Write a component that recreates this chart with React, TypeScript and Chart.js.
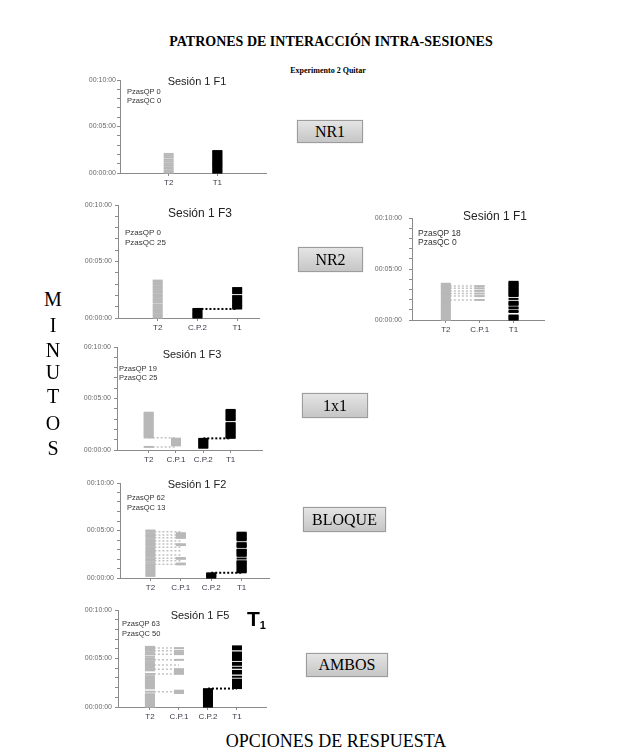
import React, { useEffect, useRef } from 'react';
import { Chart, registerables } from 'chart.js';
Chart.register(...registerables);

const GRAY = '#b8b8b8';
const GRAY_LINK = '#c2c2c2';
const BLACK = '#000000';

// Category label sets
const CATS_A = ['T2', 'T1'];
const CATS_B = ['T2', 'C.P.2', 'T1'];
const CATS_C = ['T2', 'C.P.1', 'T1'];
const CATS_D = ['T2', 'C.P.1', 'C.P.2', 'T1'];

// Y tick labels (minutes)
const Y_TICK_LABELS: Record<number, string> = { 0: '00:00:00', 5: '00:05:00', 10: '00:10:00' };

// ---- Panel 1: NR1, Sesión 1 F1 ----
const P1_T2 = [0.05, 0.22, 0.45, 0.63, 0.85, 1.04, 1.25, 1.43, 1.66, 1.84, 2.05];
const P1_T1 = [0.04, 0.15, 0.27, 0.38, 0.5, 0.62, 0.73, 0.85, 0.97, 1.08, 1.2, 1.31, 1.43, 1.55, 1.66, 1.78, 1.9, 2.01, 2.13, 2.25, 2.36];

// ---- Panel 2: NR2, Sesión 1 F3 ----
const P2_T2 = [0.04, 0.18, 0.33, 0.47, 0.62, 0.76, 0.9, 1.05, 1.19, 1.38, 1.52, 1.66, 1.8, 1.95, 2.09, 2.24, 2.38, 2.52, 2.66, 2.8, 2.94, 3.08, 3.2, 3.31];
const P2_CP2 = [0.04, 0.14, 0.25, 0.36, 0.47, 0.58, 0.69, 0.8];
const P2_CP2_T1 = [0.8];
const P2_T1 = [0.84, 0.95, 1.06, 1.17, 1.28, 1.39, 1.5, 1.61, 1.72, 1.83, 1.94, 2.2, 2.31, 2.42, 2.53, 2.65];

// ---- Panel 6: NR2 (right), Sesión 1 F1 ----
const P6_T2 = [0.04, 0.17, 0.3, 0.43, 0.56, 0.69, 0.82, 0.95, 1.08, 1.21, 1.34, 1.47, 1.6, 1.73, 1.86, 1.97, 2.16, 2.35, 2.48, 2.6, 2.73, 2.86, 2.98, 3.11, 3.22, 3.33, 3.45, 3.56];
const P6_T2_CP1 = [1.97, 2.35, 2.6, 2.86, 3.11, 3.33];
const P6_CP1 = [1.97, 2.35, 2.6, 2.86, 3.11, 3.33];
const P6_T1 = [0.04, 0.14, 0.24, 0.34, 0.44, 0.79, 0.89, 1.14, 1.24, 1.49, 1.59, 1.69, 1.79, 2.07, 2.35, 2.45, 2.55, 2.65, 2.75, 2.85, 2.95, 3.05, 3.15, 3.25, 3.35, 3.45, 3.55, 3.65, 3.75];

// ---- Panel 3: 1x1, Sesión 1 F3 ----
const P3_T2 = [0.3, 1.22, 1.33, 1.44, 1.55, 1.66, 1.77, 1.88, 1.99, 2.1, 2.21, 2.32, 2.43, 2.54, 2.65, 2.76, 2.87, 2.98, 3.09, 3.2, 3.31, 3.42, 3.53, 3.62];
const P3_T2_CP1 = [1.18, 0.3];
const P3_CP1 = [0.45, 0.56, 0.67, 0.78, 0.89, 1.0, 1.1];
const P3_CP2 = [0.22, 0.33, 0.44, 0.55, 0.66, 0.77, 0.88, 0.99, 1.08];
const P3_CP2_T1 = [1.13];
const P3_T1 = [1.18, 1.29, 1.4, 1.51, 1.62, 1.73, 1.84, 1.95, 2.06, 2.17, 2.28, 2.39, 2.5, 2.61, 2.9, 3.01, 3.12, 3.23, 3.34, 3.45, 3.56, 3.67, 3.78, 3.89];

// ---- Panel 4: BLOQUE, Sesión 1 F2 ----
const P4_T2 = [0.22, 0.38, 0.52, 0.68, 0.82, 0.98, 1.14, 1.3, 1.44, 1.62, 1.82, 1.96, 2.07, 2.25, 2.42, 2.6, 2.74, 2.87, 3.05, 3.23, 3.4, 3.58, 3.74, 3.89, 4.06, 4.24, 4.4, 4.53, 4.7, 4.87, 5.0];
const P4_T2_CP1 = [1.44, 1.82, 2.07, 2.42, 2.87, 3.23, 3.58, 3.89, 4.24, 4.53, 4.87];
const P4_CP1 = [1.44, 1.52, 2.02, 2.1, 3.46, 3.55, 4.22, 4.32, 4.42, 4.52, 4.62, 4.72];
const P4_CP2 = [0.04, 0.13, 0.22, 0.31, 0.4, 0.49];
const P4_CP2_T1 = [0.55];
const P4_T1 = [0.6, 0.7, 0.8, 0.9, 1.0, 1.1, 1.2, 1.3, 1.4, 1.5, 1.6, 1.7, 1.76, 2.05, 2.33, 2.43, 2.53, 2.63, 2.73, 2.83, 2.93, 2.98, 3.27, 3.37, 3.47, 3.57, 3.67, 3.97, 4.07, 4.17, 4.27, 4.37, 4.47, 4.57, 4.67, 4.77];

// ---- Panel 5: AMBOS, Sesión 1 F5 ----
const P5_T2 = [0.04, 0.14, 0.24, 0.34, 0.44, 0.54, 0.64, 0.74, 0.84, 0.94, 1.04, 1.14, 1.24, 1.32, 1.58, 1.92, 2.06, 2.2, 2.34, 2.48, 2.62, 2.76, 2.9, 3.04, 3.18, 3.41, 3.78, 3.9, 4.06, 4.2, 4.34, 4.5, 4.66, 4.86, 5.02, 5.2, 5.45, 5.6, 5.79, 5.95, 6.07, 6.2];
const P5_T2_CP1 = [1.58, 3.41, 3.9, 4.34, 4.86, 5.45, 5.79, 6.07];
const P5_CP1 = [1.44, 1.52, 1.6, 1.68, 3.42, 3.5, 3.58, 3.66, 3.74, 3.82, 3.9, 4.86, 5.45, 5.6, 5.79, 6.07];
const P5_CP2 = [0.04, 0.14, 0.24, 0.34, 0.44, 0.54, 0.64, 0.74, 0.84, 0.94, 1.04, 1.14, 1.24, 1.34, 1.44, 1.54, 1.64, 1.74, 1.84];
const P5_CP2_T1 = [1.9];
const P5_T1 = [1.95, 2.05, 2.15, 2.25, 2.35, 2.45, 2.55, 2.65, 2.75, 2.82, 3.12, 3.45, 3.55, 3.65, 3.72, 4.05, 4.35, 4.45, 4.55, 4.85, 4.95, 5.05, 5.15, 5.25, 5.35, 5.45, 5.55, 5.62, 5.95, 6.05, 6.15, 6.25];

type Marks = { cat: number; times: number[]; color: string };
type Link = { from: number; to: number; times: number[]; color: string; width: number };

interface PanelCfg {
  axisX: number; topY: number; bottomY: number; rightX: number;
  xMin: number; xMax: number;
  cats: string[];
  marks: Marks[];
  links: Link[];
  tickPad: number;
  title: string; titleX: number; titleY: number; titleSize: number;
  pzas: string[]; pzasX: number; pzasY: number; pzasSize: number; pzasGap: number;
}

const PANELS: PanelCfg[] = [
  {
    axisX: 120, topY: 80, bottomY: 172.5, rightX: 267, xMin: 0, xMax: 3, cats: CATS_A,
    marks: [{ cat: 1, times: P1_T2, color: GRAY }, { cat: 2, times: P1_T1, color: BLACK }],
    links: [], tickPad: 1,
    title: 'Sesión 1 F1', titleX: 197, titleY: 81, titleSize: 11,
    pzas: ['PzasQP 0', 'PzasQC 0'], pzasX: 127, pzasY: 92, pzasSize: 7.5, pzasGap: 9,
  },
  {
    axisX: 118, topY: 205, bottomY: 318, rightX: 260, xMin: 0, xMax: 3.55, cats: CATS_B,
    marks: [{ cat: 1, times: P2_T2, color: GRAY }, { cat: 2, times: P2_CP2, color: BLACK }, { cat: 3, times: P2_T1, color: BLACK }],
    links: [{ from: 2, to: 3, times: P2_CP2_T1, color: BLACK, width: 2 }], tickPad: 3,
    title: 'Sesión 1 F3', titleX: 200, titleY: 213, titleSize: 12,
    pzas: ['PzasQP 0', 'PzasQC 25'], pzasX: 125, pzasY: 233, pzasSize: 8, pzasGap: 10,
  },
  {
    axisX: 412, topY: 215, bottomY: 320, rightX: 545, xMin: 0, xMax: 3.9, cats: CATS_C,
    marks: [{ cat: 1, times: P6_T2, color: GRAY }, { cat: 2, times: P6_CP1, color: GRAY }, { cat: 3, times: P6_T1, color: BLACK }],
    links: [{ from: 1, to: 2, times: P6_T2_CP1, color: GRAY_LINK, width: 1.5 }], tickPad: 7,
    title: 'Sesión 1 F1', titleX: 495, titleY: 216, titleSize: 12,
    pzas: ['PzasQP 18', 'PzasQC 0'], pzasX: 418, pzasY: 233, pzasSize: 8.5, pzasGap: 9,
  },
  {
    axisX: 117, topY: 347, bottomY: 450, rightX: 263, xMin: -0.16, xMax: 5.15, cats: CATS_D,
    marks: [{ cat: 1, times: P3_T2, color: GRAY }, { cat: 2, times: P3_CP1, color: GRAY }, { cat: 3, times: P3_CP2, color: BLACK }, { cat: 4, times: P3_T1, color: BLACK }],
    links: [{ from: 1, to: 2, times: P3_T2_CP1, color: GRAY_LINK, width: 1.5 }, { from: 3, to: 4, times: P3_CP2_T1, color: BLACK, width: 2 }], tickPad: 3,
    title: 'Sesión 1 F3', titleX: 192, titleY: 354, titleSize: 11,
    pzas: ['PzasQP 19', 'PzasQC 25'], pzasX: 119, pzasY: 369, pzasSize: 7.5, pzasGap: 9,
  },
  {
    axisX: 120, topY: 483, bottomY: 578, rightX: 270, xMin: 0, xMax: 4.9, cats: CATS_D,
    marks: [{ cat: 1, times: P4_T2, color: GRAY }, { cat: 2, times: P4_CP1, color: GRAY }, { cat: 3, times: P4_CP2, color: BLACK }, { cat: 4, times: P4_T1, color: BLACK }],
    links: [{ from: 1, to: 2, times: P4_T2_CP1, color: GRAY_LINK, width: 1.5 }, { from: 3, to: 4, times: P4_CP2_T1, color: BLACK, width: 2 }], tickPad: 3,
    title: 'Sesión 1 F2', titleX: 197, titleY: 484, titleSize: 11,
    pzas: ['PzasQP 62', 'PzasQC 13'], pzasX: 127, pzasY: 498, pzasSize: 7.5, pzasGap: 10,
  },
  {
    axisX: 118, topY: 610, bottomY: 707, rightX: 267, xMin: -0.1, xMax: 5.0, cats: CATS_D,
    marks: [{ cat: 1, times: P5_T2, color: GRAY }, { cat: 2, times: P5_CP1, color: GRAY }, { cat: 3, times: P5_CP2, color: BLACK }, { cat: 4, times: P5_T1, color: BLACK }],
    links: [{ from: 1, to: 2, times: P5_T2_CP1, color: GRAY_LINK, width: 1.5 }, { from: 3, to: 4, times: P5_CP2_T1, color: BLACK, width: 2 }], tickPad: 3,
    title: 'Sesión 1 F5', titleX: 200, titleY: 615, titleSize: 11,
    pzas: ['PzasQP 63', 'PzasQC 50'], pzasX: 122, pzasY: 624, pzasSize: 7.5, pzasGap: 10,
  },
];

const SANS = '"Liberation Sans", Arial, sans-serif';
const SERIF = '"Liberation Serif", "Times New Roman", serif';

const PAD_L = 4, Y_W = 48, PAD_T = 8, PAD_R = 6, X_H = 20, PAD_B = 2;

function Panel({ cfg }: { cfg: PanelCfg }) {
  const ref = useRef<HTMLCanvasElement | null>(null);
  const left = cfg.axisX - PAD_L - Y_W;
  const top = cfg.topY - PAD_T;
  const width = Math.round(cfg.rightX - cfg.axisX + PAD_L + Y_W + PAD_R);
  const height = Math.round(cfg.bottomY - cfg.topY + PAD_T + X_H + PAD_B);

  useEffect(() => {
    if (!ref.current) return;
    const datasets: any[] = [];
    cfg.links.forEach((l) => {
      const data: any[] = [];
      l.times.forEach((t) => {
        data.push({ x: l.from, y: t }, { x: l.to, y: t }, { x: l.to, y: null });
      });
      datasets.push({
        type: 'line', data, borderColor: l.color, borderWidth: l.width, borderDash: [2, 2],
        pointRadius: 0, spanGaps: false, clip: false, order: 2, tension: 0,
      });
    });
    cfg.marks.forEach((m) => {
      datasets.push({
        type: 'scatter', data: m.times.map((t) => ({ x: m.cat, y: t })),
        pointStyle: 'line', pointRadius: 5, pointBorderWidth: 2,
        pointBorderColor: m.color, pointBackgroundColor: m.color, borderColor: m.color,
        showLine: false, clip: false, order: 1,
      });
    });
    const chart = new Chart(ref.current, {
      type: 'scatter',
      data: { datasets },
      options: {
        animation: false,
        responsive: false,
        devicePixelRatio: 1,
        layout: { padding: { left: PAD_L, top: PAD_T, right: PAD_R, bottom: PAD_B } },
        plugins: { legend: { display: false }, tooltip: { enabled: false }, title: { display: false } },
        events: [],
        scales: {
          x: {
            type: 'linear', min: cfg.xMin, max: cfg.xMax,
            afterBuildTicks: (s: any) => { s.ticks = cfg.cats.map((_, i) => ({ value: i + 1 })); },
            afterFit: (s: any) => { s.height = X_H; },
            ticks: {
              autoSkip: false, maxRotation: 0, color: '#3a3a4a', padding: 2,
              font: { size: 8, family: SANS },
              callback: (v: any) => cfg.cats[Math.round(Number(v)) - 1] ?? '',
            },
            grid: { drawOnChartArea: false, drawTicks: true, tickLength: 3, color: '#8a8a8a' },
            border: { color: '#8a8a8a', width: 1 },
          },
          y: {
            type: 'linear', min: 0, max: 10,
            afterFit: (s: any) => { s.width = Y_W; },
            ticks: {
              stepSize: 1, autoSkip: false, color: '#6a6a6a', padding: cfg.tickPad,
              font: { size: 7, family: SANS },
              callback: (v: any) => Y_TICK_LABELS[Number(v)] ?? '',
            },
            grid: { drawOnChartArea: false, drawTicks: true, tickLength: 3, color: '#8a8a8a' },
            border: { color: '#8a8a8a', width: 1 },
          },
        },
      } as any,
    });
    return () => chart.destroy();
  }, [cfg]);

  return (
    <>
      <canvas ref={ref} width={width} height={height}
        style={{ position: 'absolute', left, top, width, height }} />
      <div style={{ position: 'absolute', left: cfg.titleX, top: cfg.titleY, transform: 'translate(-50%,-50%)', fontFamily: SANS, fontSize: cfg.titleSize, lineHeight: 1, color: '#222', whiteSpace: 'nowrap' }}>{cfg.title}</div>
      {cfg.pzas.map((p, i) => (
        <div key={i} style={{ position: 'absolute', left: cfg.pzasX, top: cfg.pzasY + i * cfg.pzasGap, transform: 'translate(0,-50%)', fontFamily: SANS, fontSize: cfg.pzasSize, lineHeight: 1, color: '#333', whiteSpace: 'nowrap' }}>{p}</div>
      ))}
    </>
  );
}

const BOXES = [
  { label: 'NR1', x: 297, y: 120, w: 66, h: 23 },
  { label: 'NR2', x: 298, y: 247, w: 65, h: 25 },
  { label: '1x1', x: 302, y: 393, w: 66, h: 25 },
  { label: 'BLOQUE', x: 303, y: 507, w: 83, h: 25 },
  { label: 'AMBOS', x: 306, y: 653, w: 82, h: 24 },
];

const MINUTOS = [
  { ch: 'M', y: 299 }, { ch: 'I', y: 325 }, { ch: 'N', y: 350 }, { ch: 'U', y: 372 },
  { ch: 'T', y: 396 }, { ch: 'O', y: 423 }, { ch: 'S', y: 448 },
];

export default function App() {
  return (
    <div style={{ position: 'absolute', left: 0, top: 0, width: 629, height: 753, background: '#fff', overflow: 'hidden' }}>
      <div style={{ position: 'absolute', left: 331, top: 42, transform: 'translate(-50%,-50%)', fontFamily: SERIF, fontWeight: 700, fontSize: 14, lineHeight: 1, whiteSpace: 'nowrap', color: '#000' }}>PATRONES DE INTERACCIÓN INTRA-SESIONES</div>
      <div style={{ position: 'absolute', left: 328, top: 71, transform: 'translate(-50%,-50%)', fontFamily: SERIF, fontWeight: 700, fontSize: 8, lineHeight: 1, whiteSpace: 'nowrap', color: '#000' }}>Experimento 2 Quitar</div>
      {PANELS.map((p, i) => <Panel key={i} cfg={p} />)}
      {BOXES.map((b) => (
        <div key={b.label} style={{ position: 'absolute', left: b.x, top: b.y, width: b.w, height: b.h, boxSizing: 'border-box', border: '1px solid #9c9c9c', background: 'linear-gradient(#e4e4e4, #c6c6c6)', boxShadow: '0 0 1px #bbb', display: 'flex', alignItems: 'center', justifyContent: 'center', fontFamily: SERIF, fontSize: 16, color: '#000' }}>{b.label}</div>
      ))}
      {MINUTOS.map((m, i) => (
        <div key={i} style={{ position: 'absolute', left: 53, top: m.y, transform: 'translate(-50%,-50%)', fontFamily: SERIF, fontSize: 20, lineHeight: 1, color: '#000' }}>{m.ch}</div>
      ))}
      <div style={{ position: 'absolute', left: 247, top: 608, fontFamily: SANS, fontWeight: 700, fontSize: 21, lineHeight: 1, color: '#000', whiteSpace: 'nowrap' }}>T<span style={{ fontSize: 11, verticalAlign: -3 }}>1</span></div>
      <div style={{ position: 'absolute', left: 336, top: 741, transform: 'translate(-50%,-50%)', fontFamily: SERIF, fontSize: 18, lineHeight: 1, whiteSpace: 'nowrap', color: '#000' }}>OPCIONES DE RESPUESTA</div>
    </div>
  );
}
